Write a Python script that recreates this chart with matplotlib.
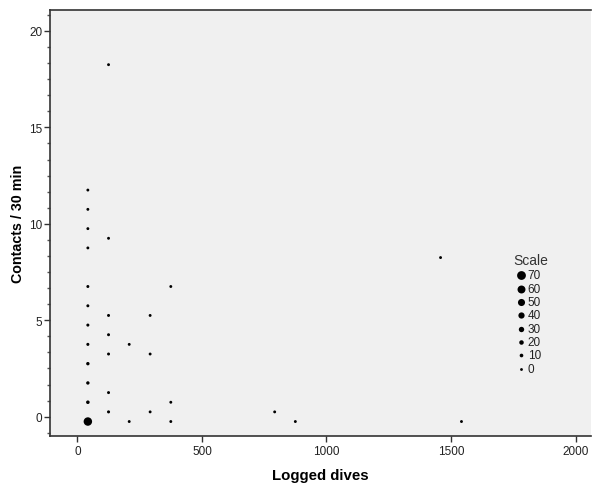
import matplotlib.pyplot as plt
from matplotlib.ticker import MultipleLocator

plt.rcParams['font.family'] = ['Liberation Sans', 'DejaVu Sans']

# binned scatter: x = logged dives, y = contacts / 30 min, count = points in bin
dives = [42, 42, 42, 42, 42, 42, 42, 42, 42, 42, 42, 42,
         125, 125, 125, 125, 125, 125, 125,
         208, 208,
         292, 292, 292,
         375, 375, 375,
         792, 875, 1458, 1542]
contacts = [-0.25, 0.75, 1.75, 2.75, 3.75, 4.75, 5.75, 6.75, 8.75, 9.75, 10.75, 11.75,
            18.25, 9.25, 5.25, 4.25, 3.25, 1.25, 0.25,
            3.75, -0.25,
            5.25, 3.25, 0.25,
            6.75, 0.75, -0.25,
            0.25, -0.25, 8.25, -0.25]
counts = [66, 9, 7, 7, 3, 3, 2, 2, 1, 1, 1, 1,
          1, 1, 2, 2, 2, 2, 3,
          1, 1,
          1, 1, 1,
          1, 1, 1,
          1, 1, 1, 1]

legend_values = [70, 60, 50, 40, 30, 20, 10, 0]


def marker_size(v):
    d_px = 2.8 + 6.0 * v / 70.0
    return (d_px * 0.72) ** 2


fig = plt.figure(figsize=(5.92, 4.85), dpi=100)
ax = fig.add_axes([50 / 592, 48 / 485, 541 / 592, 426.3 / 485])
ax.set_facecolor('#f0f0f0')

ax.scatter(dives, contacts, s=[marker_size(c) for c in counts], color='black',
           linewidths=0, zorder=3)

ax.set_xlim(-110, 2062)
ax.set_ylim(-1.0, 21.1)
ax.xaxis.set_major_locator(MultipleLocator(500))
ax.yaxis.set_major_locator(MultipleLocator(5))
ax.yaxis.set_minor_locator(MultipleLocator(5 / 6))

ax.tick_params(axis='both', which='major', length=4.5, width=1, color='#333333',
               labelsize=8.5, labelcolor='#222222', direction='out')
ax.tick_params(axis='y', which='minor', length=2.5, width=1, color='#555555', direction='out')
ax.tick_params(axis='y', pad=1)
ax.tick_params(axis='x', pad=2)

for side in ['left', 'bottom', 'top']:
    ax.spines[side].set_color('#333333')
    ax.spines[side].set_linewidth(1.2)
ax.spines['right'].set_visible(False)

ax.set_xlabel('Logged dives', fontsize=10.8, fontweight='bold', labelpad=8)
ax.set_ylabel('Contacts / 30 min', fontsize=10.3, fontweight='bold', labelpad=3)

# size legend
ax.text(0.888, 0.413, 'Scale', transform=ax.transAxes, fontsize=10,
        color='#333333', ha='center', va='center')
for i, v in enumerate(legend_values):
    yy = 0.377 - i * 0.0313
    ax.scatter([0.870], [yy], s=marker_size(v), color='black', linewidths=0,
               transform=ax.transAxes, clip_on=False)
    ax.text(0.883, yy, str(v), transform=ax.transAxes, fontsize=8.5,
            color='#222222', ha='left', va='center')

plt.savefig('out.png', dpi=100)
